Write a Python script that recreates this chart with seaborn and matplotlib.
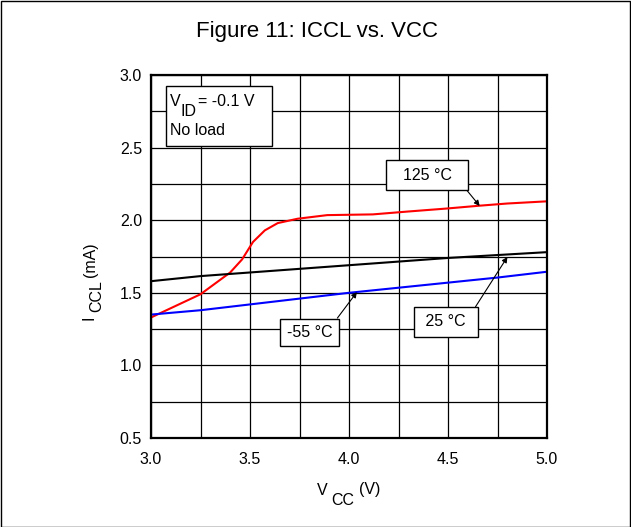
import pandas as pd
import numpy as np
import matplotlib.pyplot as plt
import seaborn as sns
from matplotlib.patches import Rectangle

# values
vcc_125 = [3.0, 3.25, 3.4, 3.46, 3.515, 3.575, 3.64, 3.74, 3.89, 4.12, 4.3, 4.49, 4.66, 4.8, 5.0]
iccl_125 = [1.33, 1.49, 1.64, 1.73, 1.85, 1.93, 1.98, 2.01, 2.035, 2.04, 2.06, 2.08, 2.10, 2.115, 2.13]

vcc_25 = [3.0, 3.25, 3.5, 3.75, 4.0, 4.25, 4.5, 4.75, 5.0]
iccl_25 = [1.58, 1.615, 1.64, 1.665, 1.69, 1.715, 1.74, 1.76, 1.78]

vcc_m55 = [3.0, 3.25, 3.5, 3.75, 4.0, 4.25, 4.5, 4.75, 5.0]
iccl_m55 = [1.35, 1.38, 1.42, 1.46, 1.50, 1.535, 1.57, 1.605, 1.645]

sns.set_style("white")
plt.rcParams['font.family'] = ['Liberation Sans', 'DejaVu Sans']
plt.rcParams['text.color'] = 'black'
plt.rcParams['axes.labelcolor'] = 'black'

W, H = 631, 527
fs = 11.5

fig = plt.figure(figsize=(6.31, 5.27), dpi=100)
ax = fig.add_axes([151 / W, 1 - 438 / H, 396 / W, 363 / H])

sns.lineplot(x=vcc_125, y=iccl_125, color='red', lw=1.5, ax=ax)
sns.lineplot(x=vcc_25, y=iccl_25, color='black', lw=1.5, ax=ax)
sns.lineplot(x=vcc_m55, y=iccl_m55, color='blue', lw=1.5, ax=ax)

ax.set_xlim(3.0, 5.0)
ax.set_ylim(0.5, 3.0)
ax.set_xticks(np.arange(3.0, 5.01, 0.5))
ax.set_yticks(np.arange(0.5, 3.01, 0.5))
ax.set_xticks(np.arange(3.0, 5.01, 0.25), minor=True)
ax.set_yticks(np.arange(0.5, 3.01, 0.25), minor=True)
ax.grid(True, which='both', color='black', lw=0.9)
ax.tick_params(which='both', direction='in', length=5, width=1.5, colors='black', labelsize=fs)
ax.tick_params(axis='x', pad=10)
ax.tick_params(axis='y', pad=6.5)
for s in ax.spines.values():
    s.set_linewidth(1.6)
    s.set_color('black')

# title
fig.text(316.5 / W, 1 - 37.5 / H, 'Figure 11: ICCL vs. VCC', ha='center', va='baseline', fontsize=16)

# x label: V, subscript CC, (V)
t1 = fig.text(317 / W, 1 - 495 / H, 'V', ha='left', va='baseline', fontsize=fs)
t2 = ax.annotate('CC', xy=(1, 0), xycoords=t1, xytext=(4, -10), textcoords='offset pixels',
                 ha='left', va='bottom', fontsize=fs, annotation_clip=False)
ax.annotate('(V)', xy=(1, 0), xycoords=t2, xytext=(4, 11), textcoords='offset pixels',
            ha='left', va='bottom', fontsize=fs, annotation_clip=False)

# y label: I, subscript CCL, (mA)
y1 = fig.text(97 / W, 1 - 320 / H, 'I', ha='right', va='bottom', rotation=90, fontsize=fs)
y2 = ax.annotate('CCL', xy=(1, 1), xycoords=y1, xytext=(7, 3), textcoords='offset pixels',
                 ha='right', va='bottom', rotation=90, fontsize=fs, annotation_clip=False)
ax.annotate('(mA)', xy=(1, 1), xycoords=y2, xytext=(-6, 4), textcoords='offset pixels',
            ha='right', va='bottom', rotation=90, fontsize=fs, annotation_clip=False)

# condition box
ax.add_patch(Rectangle((15 / 396, (438 - 146) / 363), 106 / 396, 60 / 363, transform=ax.transAxes,
                       fc='white', ec='black', lw=1, zorder=4))
v1 = ax.text(19 / 396, (438 - 106) / 363, 'V', transform=ax.transAxes, ha='left', va='baseline',
             fontsize=fs, zorder=5)
v2 = ax.annotate('ID', xy=(1, 0), xycoords=v1, xytext=(0, -10), textcoords='offset pixels',
                 ha='left', va='bottom', fontsize=fs, zorder=5)
ax.annotate('= -0.1 V', xy=(1, 0), xycoords=v2, xytext=(1, 10), textcoords='offset pixels',
            ha='left', va='bottom', fontsize=fs, zorder=5)
ax.text(19 / 396, (438 - 135) / 363, 'No load', transform=ax.transAxes, ha='left', va='baseline',
        fontsize=fs, zorder=5)

# curve labels
nb = '\u00a0'
ax.annotate(nb * 2 + '125 °C' + nb * 2, xy=(4.66, 2.098), xytext=(4.394, 2.311), fontsize=fs,
            ha='center', va='center', zorder=5,
            bbox=dict(boxstyle='square,pad=0.45', fc='white', ec='black', lw=1),
            arrowprops=dict(arrowstyle='-|>', color='black', lw=0.8, mutation_scale=8,
                            relpos=(1, 0), shrinkA=0, shrinkB=0))
ax.annotate('-55 °C', xy=(4.04, 1.505), xytext=(3.80, 1.227), fontsize=fs,
            ha='center', va='center', zorder=5,
            bbox=dict(boxstyle='square,pad=0.4', fc='white', ec='black', lw=1),
            arrowprops=dict(arrowstyle='-|>', color='black', lw=0.8, mutation_scale=8,
                            relpos=(1, 1), shrinkA=0, shrinkB=0))
ax.annotate(nb + '25 °C' + nb, xy=(4.80, 1.747), xytext=(4.49, 1.299), fontsize=fs,
            ha='center', va='center', zorder=5,
            bbox=dict(boxstyle='square,pad=0.45', fc='white', ec='black', lw=1),
            arrowprops=dict(arrowstyle='-|>', color='black', lw=0.8, mutation_scale=8,
                            relpos=(1, 1), shrinkA=0, shrinkB=0))

fig.patches.append(Rectangle((0.5 / W, 0.5 / H), 1 - 1.5 / W, 1 - 1.5 / H, transform=fig.transFigure,
                             fill=False, ec='black', lw=1))

plt.savefig('out.png', dpi=100)
